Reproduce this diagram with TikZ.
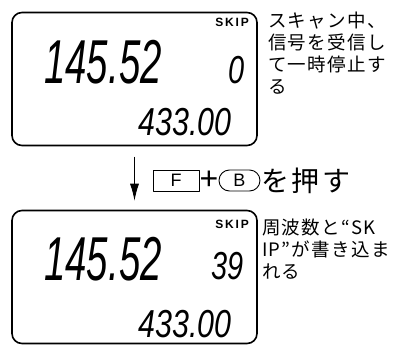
\documentclass[tikz,border=0pt]{standalone}
\usepackage{fontspec}
\setmainfont{Liberation Sans}
\newfontfamily\jpfont{Noto Sans CJK JP}
\usetikzlibrary{arrows.meta,positioning}

\begin{document}
\begin{tikzpicture}[x=1pt,y=-1pt,line cap=round,line join=round]
  \tikzset{
    lcdbox/.style={draw,line width=1.6pt,rounded corners=10pt,minimum width=245pt,minimum height=133pt,inner sep=0pt},
    lcdnum/.style={inner sep=0pt,font=\itshape\fontsize{62}{62}\selectfont},
    lcdsmall/.style={inner sep=0pt,font=\itshape\fontsize{39}{39}\selectfont},
    skiptag/.style={inner sep=0pt,font=\bfseries\addfontfeature{LetterSpace=15}\fontsize{12}{12}\selectfont},
    note/.style={inner sep=0pt,align=left,anchor=north west,
      font=\jpfont\addfontfeature{LetterSpace=7}\fontsize{18.5}{22}\selectfont},
    keybox/.style={draw,line width=0.9pt,minimum height=21pt,inner sep=0pt,font=\fontsize{18}{18}\selectfont},
  }
  \useasboundingbox (0,0) rectangle (396,345);

  % ==================== scanning ====================
  \node[lcdbox] (lcdA) at (134.5,79) {};
  \node[skiptag,anchor=base east] (skipA) at (249,27) {SKIP};
  \node[lcdnum,anchor=base west] (freqA) at (44,84) {\scalebox{0.62}[1]{145.52}};
  \node[lcdsmall,anchor=base east] (chanA) at (245,83) {\scalebox{0.74}[1]{0}};
  \node[lcdsmall,anchor=base east] (subA) at (232,135) {\scalebox{0.78}[1]{433.00}};
  \node[note] (noteA) at (268,12) {スキャン中、\\信号を受信し\\て一時停止す\\る};

  % ==================== written ====================
  \node[lcdbox] (lcdB) at (134.5,277) {};
  \node[skiptag,anchor=base east] (skipB) at (249,228) {SKIP};
  \node[lcdnum,anchor=base west] (freqB) at (44,280) {\scalebox{0.62}[1]{145.52}};
  \node[lcdsmall,anchor=base east] (chanB) at (244,279) {\scalebox{0.74}[1]{39}};
  \node[lcdsmall,anchor=base east] (subB) at (232,337) {\scalebox{0.78}[1]{433.00}};
  \node[note] (noteB) at (262,219) {周波数と“SK\\IP”が書き込ま\\れる};

  % ==================== key press ====================
  \draw[-{Latex[length=17pt,width=9pt]},line width=0.9pt,shorten <=11pt,shorten >=9pt] (lcdA) -- (lcdB);
  \node[keybox,minimum width=46pt] (keyF) at (176,180.5) {F};
  \node[inner sep=0pt,font=\fontsize{32}{32}\selectfont,right=0pt of keyF] (plus) {+};
  \node[keybox,minimum width=41pt,rounded corners=10.5pt,right=0pt of plus] (keyB) {B};
  \node[inner sep=0pt,font=\jpfont\addfontfeature{LetterSpace=8}\fontsize{28}{28}\selectfont,right=1pt of keyB] (push) {を押す};
\end{tikzpicture}
\end{document}
